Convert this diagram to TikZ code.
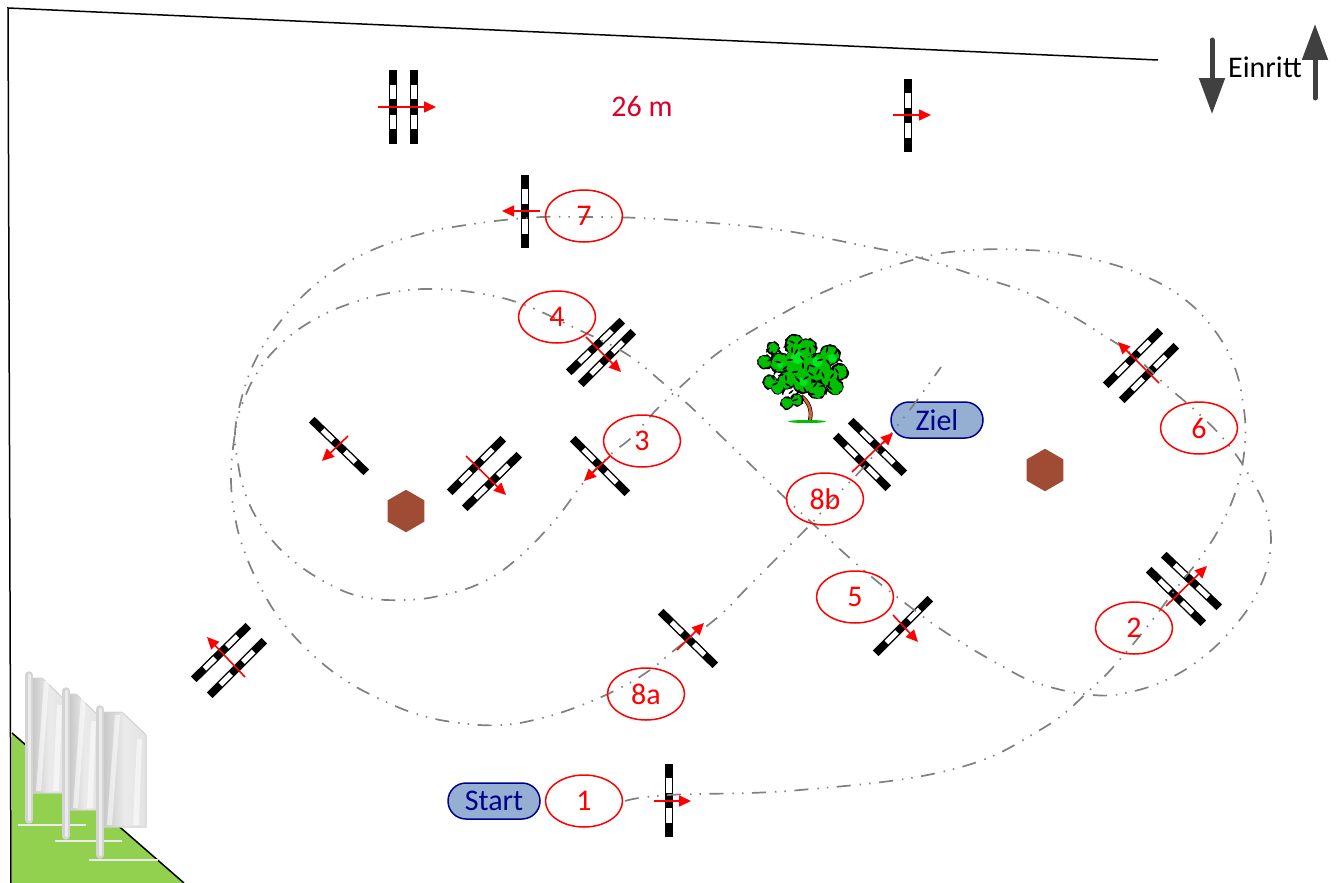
\documentclass[tikz,border=0pt]{standalone}
\usepackage{fontspec}
\setmainfont{Carlito}
\usetikzlibrary{shapes.geometric,shapes.misc,arrows.meta,calc}
\definecolor{rundred}{HTML}{FF0000}
\definecolor{pillfill}{HTML}{95AFD3}
\definecolor{pillblue}{HTML}{00008B}
\definecolor{hexbrown}{HTML}{A04B33}
\definecolor{routegray}{HTML}{808080}
\definecolor{fieldgreen}{HTML}{92D050}
\definecolor{arrowgray}{HTML}{404040}
\definecolor{titlered}{HTML}{D9002B}
\definecolor{treegreen}{HTML}{00C000}
\definecolor{treelight}{HTML}{00E820}
\tikzset{
  x=1pt,y=-1pt,
  numoval/.style={ellipse,draw=rundred,line width=1.5pt,minimum width=77pt,minimum height=52pt,inner sep=0pt,text=rundred,font=\fontsize{30}{36}\selectfont},
  pill/.style={rounded rectangle,draw=pillblue,fill=pillfill,line width=1.5pt,minimum width=92pt,minimum height=36pt,inner sep=0pt,text=pillblue,font=\fontsize{30}{36}\selectfont},
  hexmark/.style={regular polygon,regular polygon sides=6,shape border rotate=30,fill=hexbrown,minimum size=42.5pt,inner sep=0pt},
  route/.style={routegray,line width=1.7pt,dash pattern=on 14pt off 9pt on 1.5pt off 8pt on 1.5pt off 8.5pt},
  redarrow/.style={rundred,line width=1.6pt,-{Triangle[length=12pt,width=11pt]}},
  flagbase/.style={draw=black!8,line width=2.2pt},
  bigarrow/.style={arrowgray,line width=5pt,line cap=round,-{Triangle[length=36pt,width=25pt]}},
}
\newcommand{\polebar}[2]{%
  \draw[black,line width=8pt,shorten >=1pt,shorten <=1pt] (#1) -- (#2);
  \draw[white,line width=5.2pt] ($(#1)!0.205!(#2)$) -- ($(#1)!0.395!(#2)$);
  \draw[white,line width=5.2pt] ($(#1)!0.605!(#2)$) -- ($(#1)!0.795!(#2)$);
}
\newcommand{\flagbanner}[5]{% pole x, top y, banner right, banner bottom, pole bottom
  \path[left color=black!22,right color=black!11,middle color=black!8,draw=black!18,line width=1pt]
    (#1+3,#2+5) -- (#3-24,#2+5) -- (#3,#2+28) -- (#3,#4) -- (#1+3,#4) -- cycle;
  \path[fill=white,opacity=.55] (#1+15,#2+8) -- (#1+20,#2+8) -- (#1+12,#4-2) -- (#1+7,#4-2) -- cycle;
  \path[fill=white,opacity=.55] (#3-9,#2+32) -- (#3-4,#2+32) -- (#3-7,#4-2) -- (#3-13,#4-2) -- cycle;
  \draw[black!17,line width=7.5pt,line cap=round] (#1,#2+2) -- (#1,#5);
  \draw[black!8,line width=2.5pt,line cap=round] (#1+.5,#2+2) -- (#1+.5,#5);
}
\newcommand{\jagblob}[4]{% colour, cx, cy, r
  \fill[#1] plot[domain=0:345,samples=24] ({#2+(#4+1.8*rnd-.9)*cos(\x)},{#3+(#4+1.8*rnd-.9)*sin(\x)}) -- cycle;
}
\begin{document}
\begin{tikzpicture}
\useasboundingbox (0,0) rectangle (1338,883);
% arena
\fill[fieldgreen] (12,733) -- (184,883) -- (12,883) -- cycle;
\draw[black,line width=1.5pt] (12,733) -- (184,883);
\draw[black,line width=1.5pt] (11,883) -- (8,8) -- (1158,60);
% fences
\polebar{393,69}{393,145}
\polebar{414,69}{414,145}
\polebar{908,78}{908,153}
\polebar{525,174}{525,249}
\polebar{669,763}{669,838}
\polebar{568,373}{623,320}
\polebar{580,385}{634,331}
\polebar{449,493}{504,438}
\polebar{464,509}{520,454}
\polebar{311,419}{367,473}
\polebar{572,438}{628,494}
\polebar{850,420}{905,474}
\polebar{835,435}{889,489}
\polebar{1105,386}{1161,330}
\polebar{1121,401}{1177,345}
\polebar{1163,554}{1220,608}
\polebar{1148,569}{1204,624}
\polebar{875,654}{931,598}
\polebar{660,611}{716,666}
\polebar{193,680}{249,625}
\polebar{209,696}{265,640}
% pills
\node[pill] (start) at (494,801) {Start};
\node[pill] (ziel) at (937,420) {Ziel};
% route
\draw[route] plot[smooth,tension=0.7] coordinates {
 (625,801) (669,795) (800,790) (950,770) (1040,730) (1093,687) (1122,657) (1150,623) (1175,590) (1200,558)
 (1220,527) (1237,487) (1245,443) (1243,403) (1233,363) (1212,327) (1183,298) (1147,277) (1108,263) (1067,254)
 (1027,250) (975,250) (920,258) (840,285) (780,315) (722,350) (688,380) (658,408) (632,437) (610,455)
 (584,482) (555,520) (518,558) (483,582) (443,595) (405,600) (363,597) (327,583) (290,558) (263,528)
 (245,493) (237,457) (235,433) (240,410) (257,373) (283,342) (317,318) (355,302) (395,292) (433,289)
 (477,293) (522,304) (575,328) (625,353) (662,382) (692,408) (723,438) (753,467) (782,495) (812,523)
 (843,552) (873,578) (905,603) (945,632) (1000,665) (1040,684) (1093,695) (1130,692) (1168,679) (1203,657)
 (1233,628) (1257,593) (1270,553) (1267,513) (1250,477) (1227,443) (1198,413) (1168,387) (1133,355) (1103,335)
 (1067,313) (1028,293) (980,277) (920,258) (860,245) (780,230) (700,222) (640,218) (584,217) (525,218)
 (453,227) (417,235) (377,248) (340,267) (307,292) (280,322) (258,355) (243,393) (235,433) (231,477)
 (235,517) (245,553) (262,590) (283,623) (313,655) (345,680) (382,700) (420,715) (460,723) (502,725)
 (542,718) (582,705) (620,688) (650,670) (677,648) (718,617) (748,587) (778,557) (808,527) (835,497)
 (863,468) (890,435) (915,403) (941,367)};
% direction arrows
\coordinate (a1s) at (378,107); \coordinate (a1e) at (436,107); \draw[redarrow] (a1s) -- (a1e);
\coordinate (a2s) at (893,115); \coordinate (a2e) at (931,115); \draw[redarrow] (a2s) -- (a2e);
\coordinate (a3s) at (540,211); \coordinate (a3e) at (502,211); \draw[redarrow] (a3s) -- (a3e);
\coordinate (a4s) at (654,801); \coordinate (a4e) at (691,801); \draw[redarrow] (a4s) -- (a4e);
\coordinate (a5s) at (586,337); \coordinate (a5e) at (621,372); \draw[redarrow] (a5s) -- (a5e);
\coordinate (a6s) at (466,456); \coordinate (a6e) at (506,495); \draw[redarrow] (a6s) -- (a6e);
\coordinate (a7s) at (348,436); \coordinate (a7e) at (322,461); \draw[redarrow] (a7s) -- (a7e);
\coordinate (a8s) at (610,456); \coordinate (a8e) at (584,481); \draw[redarrow] (a8s) -- (a8e);
\coordinate (a9s) at (852,472); \coordinate (a9e) at (893,433); \draw[redarrow] (a9s) -- (a9e);
\coordinate (a10s) at (1159,383); \coordinate (a10e) at (1118,342); \draw[redarrow] (a10s) -- (a10e);
\coordinate (a11s) at (1166,606); \coordinate (a11e) at (1207,566); \draw[redarrow] (a11s) -- (a11e);
\coordinate (a12s) at (893,615); \coordinate (a12e) at (918,642); \draw[redarrow] (a12s) -- (a12e);
\coordinate (a13s) at (677,650); \coordinate (a13e) at (704,623); \draw[redarrow] (a13s) -- (a13e);
\coordinate (a14s) at (245,677); \coordinate (a14e) at (207,637); \draw[redarrow] (a14s) -- (a14e);
% numbered ovals
\node[numoval] (n1) at (584,801) {1};
\node[numoval] (n2) at (1134,628) {2};
\node[numoval] (n3) at (642,441) {3};
\node[numoval] (n4) at (557,317) {4};
\node[numoval] (n5) at (855,597) {5};
\node[numoval] (n6) at (1199,428) {6};
\node[numoval] (n7) at (584,216) {7};
\node[numoval] (n8a) at (646,694) {8a};
\node[numoval] (n8b) at (825,499) {8b};
% hexagons
\node[hexmark] (hex1) at (406,511) {};
\node[hexmark] (hex2) at (1045,470) {};
% labels
\node[text=titlered,font=\fontsize{30}{36}\selectfont] (dist) at (642,106) {26 m};
\node[text=black,font=\fontsize{30}{36}\selectfont] (einritt) at (1265,67) {Einritt};
\coordinate (d1) at (1212,40); \coordinate (d2) at (1212,114); \draw[bigarrow] (d1) -- (d2);
\coordinate (u1) at (1315,98); \coordinate (u2) at (1315,24); \draw[bigarrow] (u1) -- (u2);
% tree
\fill[green!75!black] (807,421.5) ellipse (19 and 1.5);
\draw[black,line width=4pt] (801,396) .. controls (809,402) and (812,410) .. (810,420);
\draw[brown!80!red,line width=2.6pt] (801,396) .. controls (809,402) and (812,410) .. (810,420);
\pgfmathsetseed{7}
\foreach \cx/\cy/\rr in {795/345/9,808/348/8,830/355/9,840/372/7,835/387/7,817/390/8,797/400/5,787/403/5,778/387/6,770/382/6,765/362/6,773/348/5,780/363/9,797/363/13,817/367/13,803/383/9,828/377/8,787/380/8,793/340/4}{
  \jagblob{black}{\cx}{\cy}{\rr+1.6}
}
\foreach \cx/\cy/\rr in {795/345/9,808/348/8,830/355/9,840/372/7,835/387/7,817/390/8,797/400/5,787/403/5,778/387/6,770/382/6,765/362/6,773/348/5,780/363/9,797/363/13,817/367/13,803/383/9,828/377/8,787/380/8,793/340/4}{
  \jagblob{treegreen}{\cx}{\cy}{\rr}
}
\foreach \cx/\cy/\rr in {797/358/6,817/362/5,832/358/4,803/382/4,780/365/3}{
  \jagblob{treelight}{\cx}{\cy}{\rr}
}
\foreach \px/\py/\pa in {770/360/20,775/372/70,780/352/120,785/368/40,788/385/150,792/350/90,795/372/10,798/392/60,802/358/130,806/378/30,810/350/100,812/366/160,815/385/50,820/360/15,823/375/110,827/350/75,830/388/140,834/366/35,838/378/95,775/384/25,783/392/85,800/342/45,812/394/170,818/372/65,828/362/125,790/360/5,805/390/115,768/350/55,840/360/145,795/400/20,786/378/100,808/368/75,822/386/10,832/376/55,778/362/165,798/380/130,814/356/35,826/392/90,836/352/60,792/342/155,773/378/130,781/375/15,791/392/40,803/366/95,811/374/150,819/381/25,829/384/80,837/371/120,815/347/140,803/349/20,796/352/60,772/354/90,786/346/30}{
  \fill[black,shift={(\px,\py)},rotate=\pa] (0,0) ellipse (3.2 and .9);
}
% flags
\draw[flagbase] (18,825) -- (86,825);
\flagbanner{29}{673}{66}{793}{820}
\draw[flagbase] (55,841) -- (122,841);
\flagbanner{66}{689}{100}{810}{836}
\draw[flagbase] (89,860) -- (158,860);
\flagbanner{100}{707}{146}{827}{855}
\end{tikzpicture}
\end{document}
